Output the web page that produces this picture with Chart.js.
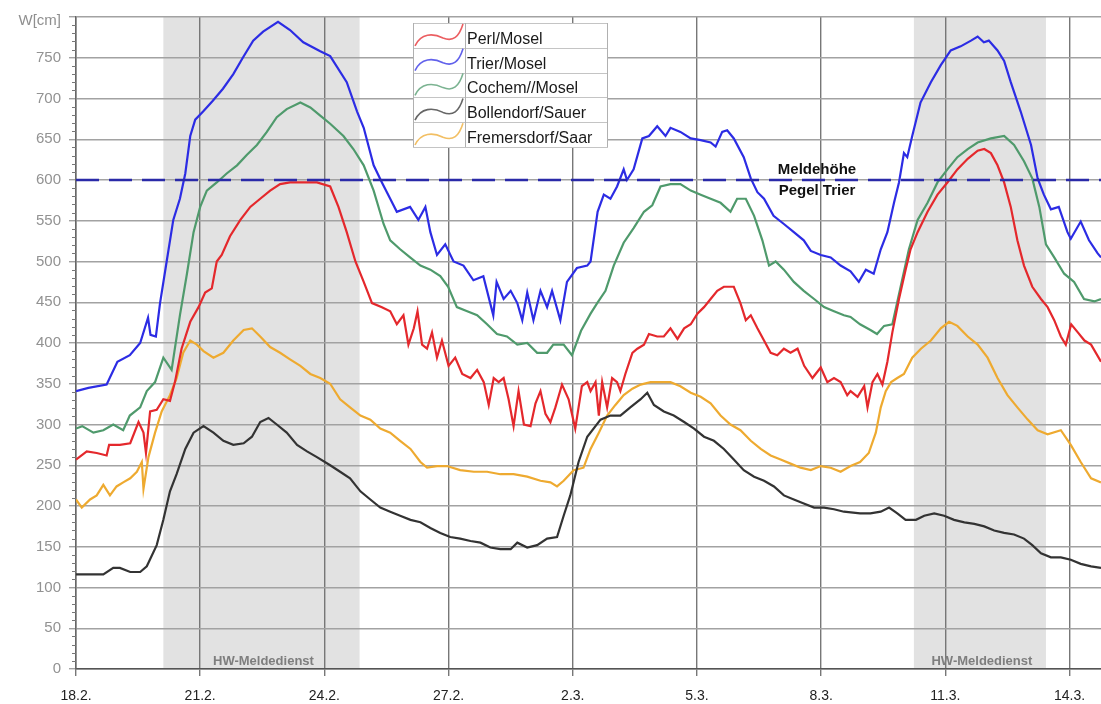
<!DOCTYPE html>
<html>
<head>
<meta charset="utf-8">
<script src="https://cdn.jsdelivr.net/npm/chart.js@4"></script>
<style>
  body { margin: 0; background: #fff; }
  canvas { display: block; }
</style>
</head>
<body>
<canvas id="pegel-chart" width="1101" height="704"></canvas>
<script>
// x = days since 18.2., y = water level in cm
const dateLabels = ['18.2.', '21.2.', '24.2.', '27.2.', '2.3.', '5.3.', '8.3.', '11.3.', '14.3.'];
const lastDay = 24.76;
const meldehoehe = 600;
const hwStart = [2.11, 20.24];
const hwEnd = [6.85, 23.43];

const perl = [[0,257],[0.26,267],[0.5,265],[0.74,262],[0.8,275],[1.06,275],[1.31,277],[1.51,303],[1.63,290],[1.69,265],[1.79,316],[1.95,318],[2.11,331],[2.27,329],[2.39,352],[2.55,393],[2.76,426],[2.96,444],[3.12,462],[3.28,467],[3.4,500],[3.52,508],[3.72,531],[3.97,551],[4.21,567],[4.45,577],[4.69,587],[4.93,595],[5.17,597],[5.5,597],[5.82,597],[6.14,592],[6.34,567],[6.54,536],[6.75,500],[6.95,475],[7.15,449],[7.39,444],[7.59,439],[7.75,423],[7.91,434],[8.03,398],[8.16,418],[8.25,439],[8.36,398],[8.48,393],[8.6,413],[8.72,382],[8.84,403],[9.0,372],[9.16,382],[9.33,362],[9.53,357],[9.69,367],[9.85,352],[9.97,324],[10.09,357],[10.21,352],[10.33,357],[10.45,331],[10.57,298],[10.69,341],[10.82,300],[10.98,298],[11.1,326],[11.22,341],[11.34,313],[11.46,303],[11.58,321],[11.74,349],[11.9,331],[12.06,295],[12.22,347],[12.35,352],[12.43,341],[12.55,352],[12.63,311],[12.71,352],[12.83,321],[12.95,357],[13.07,352],[13.15,341],[13.27,362],[13.44,388],[13.56,393],[13.72,398],[13.84,411],[14.04,408],[14.2,408],[14.36,418],[14.53,405],[14.69,418],[14.85,423],[15.01,436],[15.17,444],[15.33,454],[15.49,464],[15.65,469],[15.89,469],[16.05,449],[16.18,428],[16.3,434],[16.46,418],[16.62,403],[16.78,388],[16.94,385],[17.1,393],[17.26,388],[17.43,393],[17.59,372],[17.79,357],[17.99,370],[18.15,352],[18.31,357],[18.47,352],[18.63,336],[18.71,341],[18.88,334],[19.04,347],[19.12,321],[19.24,352],[19.36,362],[19.48,349],[19.6,377],[19.72,413],[19.88,454],[20.04,490],[20.16,515],[20.33,536],[20.57,561],[20.81,582],[21.05,597],[21.29,613],[21.54,626],[21.78,636],[21.94,638],[22.1,633],[22.26,618],[22.42,597],[22.58,567],[22.74,526],[22.9,495],[23.1,469],[23.31,454],[23.47,444],[23.63,428],[23.79,408],[23.91,398],[24.04,423],[24.2,413],[24.36,403],[24.52,398],[24.76,377]];

const trier = [[0,341],[0.3,345],[0.74,349],[1.0,377],[1.3,385],[1.55,400],[1.74,431],[1.8,410],[1.93,408],[2.03,449],[2.19,500],[2.35,551],[2.51,577],[2.64,608],[2.76,654],[2.88,674],[3.07,684],[3.3,697],[3.55,712],[3.8,730],[4.04,751],[4.28,771],[4.52,782],[4.88,794],[5.17,784],[5.49,769],[5.9,758],[6.14,752],[6.54,720],[6.79,684],[6.95,664],[7.19,618],[7.39,597],[7.59,577],[7.75,561],[8.07,567],[8.27,551],[8.44,567],[8.56,536],[8.72,508],[8.92,521],[9.12,500],[9.36,495],[9.6,477],[9.84,482],[10.08,434],[10.16,475],[10.33,454],[10.5,464],[10.66,449],[10.78,428],[10.9,462],[11.05,428],[11.22,464],[11.38,444],[11.5,464],[11.7,428],[11.86,475],[12.1,492],[12.35,495],[12.43,500],[12.6,561],[12.75,582],[12.91,577],[13.07,592],[13.23,613],[13.31,600],[13.47,613],[13.68,651],[13.84,654],[14.04,666],[14.24,654],[14.36,664],[14.6,659],[14.85,651],[15.09,649],[15.33,646],[15.45,641],[15.61,659],[15.73,661],[15.89,651],[16.13,628],[16.3,602],[16.46,585],[16.62,577],[16.85,556],[17.1,546],[17.34,536],[17.58,526],[17.75,513],[17.99,508],[18.23,505],[18.47,495],[18.71,488],[18.91,475],[19.08,490],[19.27,485],[19.44,515],[19.6,536],[19.76,572],[19.88,597],[20.0,633],[20.08,628],[20.2,654],[20.4,695],[20.65,720],[20.89,741],[21.13,759],[21.37,764],[21.62,771],[21.78,776],[21.93,769],[22.05,771],[22.26,759],[22.42,746],[22.58,720],[22.82,684],[23.07,643],[23.23,602],[23.38,582],[23.55,564],[23.74,567],[23.95,536],[24.03,528],[24.27,549],[24.47,526],[24.68,510],[24.76,505]];

const cochem = [[0,295],[0.15,298],[0.42,290],[0.66,293],[0.9,300],[1.14,293],[1.3,311],[1.55,321],[1.71,341],[1.91,352],[2.11,382],[2.31,367],[2.51,434],[2.68,485],[2.84,536],[3.0,567],[3.16,587],[3.4,597],[3.64,608],[3.89,618],[4.13,631],[4.37,643],[4.61,659],[4.85,677],[5.09,687],[5.42,695],[5.66,689],[5.9,679],[6.14,669],[6.46,654],[6.7,638],[6.95,618],[7.19,587],[7.43,546],[7.59,526],[7.83,515],[8.07,505],[8.32,495],[8.56,490],[8.8,482],[8.99,469],[9.2,444],[9.45,439],[9.69,434],[9.93,423],[10.17,411],[10.41,408],[10.66,398],[10.9,400],[11.14,388],[11.38,388],[11.53,398],[11.78,398],[11.98,385],[12.2,415],[12.43,436],[12.59,449],[12.79,464],[12.99,495],[13.23,523],[13.47,541],[13.72,561],[13.92,569],[14.12,592],[14.36,595],[14.6,595],[14.85,587],[15.09,582],[15.33,577],[15.57,572],[15.81,561],[15.97,577],[16.18,577],[16.38,556],[16.58,526],[16.74,495],[16.9,500],[17.1,490],[17.34,475],[17.58,464],[17.83,454],[18.07,444],[18.31,439],[18.55,434],[18.71,432],[18.94,423],[19.19,416],[19.35,411],[19.52,421],[19.72,423],[19.92,469],[20.12,515],[20.33,551],[20.57,572],[20.81,597],[21.05,613],[21.29,628],[21.54,638],[21.78,646],[22.1,651],[22.42,654],[22.66,643],[22.9,623],[23.1,602],[23.27,567],[23.43,521],[23.63,505],[23.87,485],[24.11,475],[24.35,454],[24.6,451],[24.76,454]];

const bollendorf = [[0,116],[0.34,116],[0.66,116],[0.9,124],[1.06,124],[1.31,119],[1.55,119],[1.71,126],[1.95,152],[2.11,183],[2.27,218],[2.43,239],[2.64,270],[2.84,290],[3.08,298],[3.32,290],[3.56,280],[3.8,275],[4.05,277],[4.25,285],[4.45,303],[4.65,308],[4.85,300],[5.09,290],[5.34,275],[5.58,267],[5.82,260],[6.14,250],[6.38,242],[6.62,234],[6.87,218],[7.11,208],[7.35,198],[7.59,193],[7.83,188],[8.08,183],[8.32,180],[8.56,173],[8.8,167],[9.04,162],[9.28,160],[9.53,157],[9.77,155],[10.01,149],[10.25,147],[10.5,147],[10.66,155],[10.9,149],[11.14,152],[11.38,160],[11.62,162],[11.78,188],[11.94,213],[12.14,254],[12.35,285],[12.67,306],[12.91,311],[13.15,311],[13.39,321],[13.64,331],[13.8,339],[13.96,324],[14.2,316],[14.44,311],[14.69,303],[14.93,295],[15.17,285],[15.41,280],[15.65,270],[15.89,257],[16.13,244],[16.38,236],[16.62,231],[16.86,224],[17.1,213],[17.34,208],[17.58,203],[17.83,198],[18.07,198],[18.31,196],[18.55,193],[18.94,191],[19.19,191],[19.44,193],[19.64,198],[19.84,191],[20.04,183],[20.29,183],[20.49,188],[20.73,191],[20.97,188],[21.21,183],[21.46,180],[21.7,178],[21.94,175],[22.18,170],[22.42,167],[22.66,165],[22.9,160],[23.1,152],[23.31,142],[23.55,137],[23.79,137],[24.03,134],[24.27,129],[24.52,126],[24.76,124]];

const fremersdorf = [[0,208],[0.14,198],[0.34,208],[0.5,213],[0.66,226],[0.82,213],[0.98,224],[1.14,229],[1.31,234],[1.47,242],[1.59,254],[1.63,221],[1.75,260],[1.91,290],[2.07,316],[2.27,336],[2.43,357],[2.59,388],[2.76,403],[2.92,398],[3.08,390],[3.32,382],[3.56,388],[3.8,403],[4.05,416],[4.25,418],[4.45,408],[4.69,395],[4.93,388],[5.17,380],[5.42,372],[5.66,362],[5.9,357],[6.14,350],[6.38,331],[6.62,321],[6.87,311],[7.11,306],[7.35,295],[7.59,290],[7.83,280],[8.08,270],[8.32,254],[8.48,247],[8.72,249],[8.96,249],[9.28,244],[9.61,242],[9.93,242],[10.25,239],[10.57,239],[10.9,236],[11.22,231],[11.46,229],[11.62,224],[11.78,231],[12.02,244],[12.26,247],[12.43,270],[12.63,290],[12.83,311],[13.03,324],[13.23,336],[13.44,344],[13.64,349],[13.88,352],[14.12,352],[14.36,352],[14.6,347],[14.85,339],[15.09,334],[15.33,326],[15.57,311],[15.81,300],[16.05,293],[16.3,280],[16.54,270],[16.78,262],[17.02,257],[17.26,252],[17.5,247],[17.75,244],[17.99,249],[18.23,247],[18.47,242],[18.71,249],[18.94,254],[19.15,265],[19.32,290],[19.44,321],[19.56,341],[19.69,352],[19.84,357],[20.0,362],[20.2,382],[20.41,393],[20.65,403],[20.89,418],[21.09,426],[21.29,421],[21.54,408],[21.78,398],[22.02,382],[22.26,357],[22.5,336],[22.74,321],[22.99,306],[23.23,293],[23.47,288],[23.79,293],[24.03,275],[24.27,254],[24.52,234],[24.76,229]];

const seriesNames = ['Perl/Mosel', 'Trier/Mosel', 'Cochem//Mosel', 'Bollendorf/Sauer', 'Fremersdorf/Saar'];
const seriesData = [perl, trier, cochem, bollendorf, fremersdorf];
const seriesColors = ['#e4282c', '#2c2ce4', '#4f9a6c', '#333333', '#eeaa30'];

const FONT = 'Arial, "Liberation Sans", sans-serif';

function toPoints(rows) {
    return rows.map(r => ({ x: r[0], y: r[1] }));
}

// shaded "HW-Meldedienst" bands, legend box and labels
const decorations = {
    id: 'decorations',
    beforeDraw(chart) {
        const ctx = chart.ctx;
        const area = chart.chartArea;
        const x = chart.scales.x;
        ctx.save();
        ctx.fillStyle = '#ffffff';
        ctx.fillRect(0, 0, chart.width, chart.height);
        ctx.fillStyle = '#e2e2e2';
        for (let i = 0; i < hwStart.length; i++) {
            const x0 = x.getPixelForValue(hwStart[i]);
            const x1 = x.getPixelForValue(hwEnd[i]);
            ctx.fillRect(x0, area.top, x1 - x0, area.bottom - area.top);
        }
        ctx.restore();
    },
    beforeDatasetsDraw(chart) {
        const ctx = chart.ctx;
        const area = chart.chartArea;
        const x = chart.scales.x;
        const y = chart.scales.y;
        ctx.save();
        ctx.font = 'bold 13px ' + FONT;
        ctx.fillStyle = '#7e7e7e';
        ctx.textAlign = 'center';
        ctx.textBaseline = 'middle';
        for (let i = 0; i < hwStart.length; i++) {
            const cx = (x.getPixelForValue(hwStart[i]) + x.getPixelForValue(hwEnd[i])) / 2;
            ctx.fillText('HW-Meldedienst', cx + 2, area.bottom - 8);
        }
        // minor ticks every 10 cm
        ctx.strokeStyle = '#777';
        ctx.lineWidth = 1;
        for (let v = 0; v <= 800; v += 10) {
            if (v % 50 === 0) continue;
            const py = Math.round(y.getPixelForValue(v)) + 0.5;
            ctx.beginPath();
            ctx.moveTo(area.left - 4, py);
            ctx.lineTo(area.left, py);
            ctx.stroke();
        }
        ctx.restore();
    },
    afterDatasetsDraw(chart) {
        const ctx = chart.ctx;
        const y = chart.scales.y;
        ctx.save();

        // axis title in place of the 800 label
        ctx.font = '15px ' + FONT;
        ctx.fillStyle = '#8f8f8f';
        ctx.textAlign = 'right';
        ctx.textBaseline = 'middle';
        ctx.fillText('W[cm]', 61, 21);

        // Meldehöhe text
        const my = y.getPixelForValue(meldehoehe);
        ctx.font = 'bold 15px ' + FONT;
        ctx.fillStyle = '#111';
        ctx.textAlign = 'center';
        ctx.fillText('Meldehöhe', 817, my - 10);
        ctx.fillText('Pegel Trier', 817, my + 11);

        // legend
        const lx = 413, ly = 23, rowH = 24.8, iconW = 52, boxW = 195;
        const boxH = rowH * seriesNames.length;
        ctx.fillStyle = '#ffffff';
        ctx.fillRect(lx, ly, boxW, boxH);
        ctx.strokeStyle = '#c4c4c4';
        ctx.lineWidth = 1;
        for (let i = 0; i <= seriesNames.length; i++) {
            const py = Math.round(ly + i * rowH) + 0.5;
            ctx.beginPath();
            ctx.moveTo(lx, py);
            ctx.lineTo(lx + boxW, py);
            ctx.stroke();
        }
        ctx.strokeStyle = '#b0b0b0';
        ctx.beginPath();
        ctx.moveTo(lx + 0.5, ly); ctx.lineTo(lx + 0.5, ly + boxH);
        ctx.moveTo(lx + iconW + 0.5, ly); ctx.lineTo(lx + iconW + 0.5, ly + boxH);
        ctx.moveTo(lx + boxW - 0.5, ly); ctx.lineTo(lx + boxW - 0.5, ly + boxH);
        ctx.stroke();

        ctx.font = '16px ' + FONT;
        ctx.textAlign = 'left';
        ctx.textBaseline = 'alphabetic';
        seriesNames.forEach((name, i) => {
            const top = ly + i * rowH;
            ctx.strokeStyle = seriesColors[i];
            ctx.globalAlpha = 0.75;
            ctx.lineWidth = 1.6;
            ctx.beginPath();
            ctx.moveTo(lx + 2, top + rowH - 2);
            ctx.bezierCurveTo(lx + 8, top + 10, lx + 20, top + 10, lx + 30, top + 15);
            ctx.bezierCurveTo(lx + 40, top + 19, lx + 46, top + 14, lx + 50, top + 1);
            ctx.stroke();
            ctx.globalAlpha = 1;
            ctx.fillStyle = '#1a1a1a';
            ctx.fillText(name, lx + iconW + 2, top + rowH - 4);
        });
        ctx.restore();
    }
};

const datasets = [{
    label: 'Meldehöhe',
    data: [{ x: 0, y: meldehoehe }, { x: lastDay, y: meldehoehe }],
    borderColor: '#2a2aa8',
    borderWidth: 2.5,
    borderDash: [23, 10],
    pointRadius: 0
}];
seriesNames.forEach((name, i) => {
    datasets.push({
        label: name,
        data: toPoints(seriesData[i]),
        borderColor: seriesColors[i],
        borderWidth: 2.2,
        pointRadius: 0,
        tension: 0
    });
});

const config = {
    type: 'line',
    data: { datasets: datasets },
    options: {
        responsive: false,
        animation: false,
        devicePixelRatio: 1,
        layout: { padding: { top: 12, right: 0, left: 0, bottom: 0 } },
        plugins: {
            legend: { display: false },
            tooltip: { enabled: false }
        },
        scales: {
            x: {
                type: 'linear',
                min: 0,
                max: lastDay,
                afterFit: scale => { scale.height = 35; },
                ticks: {
                    stepSize: 3,
                    includeBounds: false,
                    autoSkip: false,
                    maxRotation: 0,
                    padding: 12,
                    color: '#222',
                    font: { size: 14, family: FONT },
                    callback: v => dateLabels[Math.round(v / 3)]
                },
                grid: { color: '#777777', lineWidth: 1.4, tickLength: 7 },
                border: { color: '#555', width: 1.5 }
            },
            y: {
                min: 0,
                max: 800,
                afterFit: scale => { scale.width = 76; },
                ticks: {
                    stepSize: 50,
                    padding: 8,
                    color: '#929292',
                    font: { size: 15, family: FONT },
                    callback: v => (v === 800 ? '' : v)
                },
                grid: { color: '#a2a2a2', lineWidth: 1.4, tickLength: 7 },
                border: { color: '#666', width: 1.5 }
            }
        }
    },
    plugins: [decorations]
};

const pegelChart = new Chart(document.getElementById('pegel-chart').getContext('2d'), config);
</script>
</body>
</html>
